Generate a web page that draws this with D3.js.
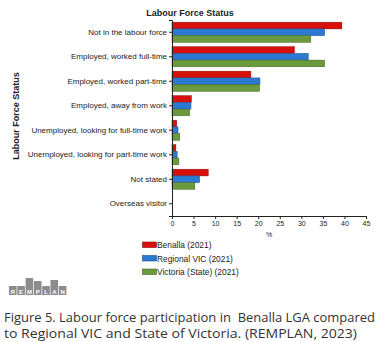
<!DOCTYPE html>
<html><head><meta charset="utf-8">
<script src="https://cdn.jsdelivr.net/npm/d3@7"></script>
<style>body{margin:0;background:#fff}svg{display:block}</style>
</head><body>
<script>
const categories = ["Not in the labour force","Employed, worked full-time","Employed, worked part-time","Employed, away from work","Unemployed, looking for full-time work","Unemployed, looking for part-time work","Not stated","Overseas visitor"];
const seriesNames = ["Benalla (2021)","Regional VIC (2021)","Victoria (State) (2021)"];
const benalla = [39.4, 28.4, 18.3, 4.5, 1.1, 0.9, 8.4, 0];
const regionalVic = [35.4, 31.6, 20.4, 4.4, 1.4, 1.2, 6.4, 0];
const victoria = [32.2, 35.4, 20.3, 4.1, 1.8, 1.6, 5.3, 0];
const xTicks = [0,5,10,15,20,25,30,35,40,45];
const colors = ["#d7100c","#2b79d0","#6a9a3c"];
const strokes = ["#8a0a08","#1a4f8a","#44662a"];
const series = [benalla, regionalVic, victoria];

const W = 389, H = 342;
const svg = d3.select("body").append("svg").attr("width", W).attr("height", H);
const x = d3.scaleLinear().domain([0,45]).range([172,366]);
const y = d3.scaleBand().domain(categories).range([20,216]).paddingInner(0.18).paddingOuter(0.09);
const ys = d3.scaleBand().domain(d3.range(3)).range([0, y.bandwidth()]);

const font = "Arial, 'Liberation Sans', sans-serif";
svg.append("text").attr("x", 190).attr("y", 16).attr("text-anchor","middle")
  .attr("font-family", font).attr("font-size", 9).attr("font-weight","bold").attr("fill","#222").text("Labour Force Status");

svg.append("text").attr("transform","translate(19,116) rotate(-90)").attr("text-anchor","middle")
  .attr("font-family", font).attr("font-size", 9).attr("font-weight","bold").attr("fill","#222").text("Labour Force Status");

series.forEach((vals, si) => {
  svg.append("g").selectAll("rect").data(vals).join("rect")
    .attr("x", x(0)).attr("y", (d,i) => y(categories[i]) + ys(si))
    .attr("width", d => Math.max(0, x(d) - x(0))).attr("height", ys.bandwidth())
    .attr("fill", colors[si]).attr("stroke", d => d > 0 ? strokes[si] : "none").attr("stroke-width", 0.5);
});

const ya = svg.append("g").attr("transform","translate(172,0)").call(d3.axisLeft(y).tickSize(3).tickPadding(2));
ya.select(".domain").attr("stroke","#222");
ya.selectAll("line").attr("stroke","#222");
ya.selectAll("text").attr("font-family", font).attr("font-size", 8).attr("fill","#222");

const xa = svg.append("g").attr("transform","translate(0,216)").call(d3.axisBottom(x).tickValues(xTicks).tickSize(3).tickPadding(2).tickSizeOuter(0));
xa.select(".domain").attr("stroke","#222");
xa.selectAll("line").attr("stroke","#222");
xa.selectAll("text").attr("font-family", font).attr("font-size", 7).attr("fill","#222");
svg.append("text").attr("x", 269).attr("y", 237).attr("text-anchor","middle")
  .attr("font-family", font).attr("font-size", 7).attr("fill","#222").text("%");

const lg = svg.append("g");
seriesNames.forEach((n, i) => {
  const yy = 241.5 + i*13.5;
  lg.append("rect").attr("x", 142.5).attr("y", yy+0.5).attr("width", 14).attr("height", 5.5)
    .attr("fill", colors[i]).attr("stroke", strokes[i]).attr("stroke-width", 0.6);
  lg.append("text").attr("x", 157).attr("y", yy+6.5).attr("font-family", font).attr("font-size", 8.4).attr("fill","#222").text(n);
});

// REMPLAN logo
const letters = ["R","E","M","P","L","A","N"];
const hts = [3,3,11,8,3,9,3];
const logo = svg.append("g");
letters.forEach((l,i) => {
  const lx = 9 + i*8.3;
  logo.append("rect").attr("x", lx).attr("y", 295 - hts[i]-6).attr("width", 7.6).attr("height", hts[i]+6).attr("fill","#8c8c8c");
  logo.append("text").attr("x", lx+3.8).attr("y", 294).attr("text-anchor","middle").attr("font-family", font)
    .attr("font-size", 6).attr("font-weight","bold").attr("fill","#fff").text(l);
});

const cfont = "'Open Sans', sans-serif";
svg.append("text").attr("x", 4).attr("y", 321.5).attr("font-family", cfont).attr("font-size", 12.6).attr("fill","#333")
  .attr("textLength", 371).attr("lengthAdjust","spacingAndGlyphs")
  .attr("xml:space","preserve").text("Figure 5. Labour force participation in  Benalla LGA compared");
svg.append("text").attr("x", 4).attr("y", 337.5).attr("font-family", cfont).attr("font-size", 12.6).attr("fill","#333")
  .attr("textLength", 353).attr("lengthAdjust","spacingAndGlyphs")
  .text("to Regional VIC and State of Victoria. (REMPLAN, 2023)");
</script>
</body></html>
